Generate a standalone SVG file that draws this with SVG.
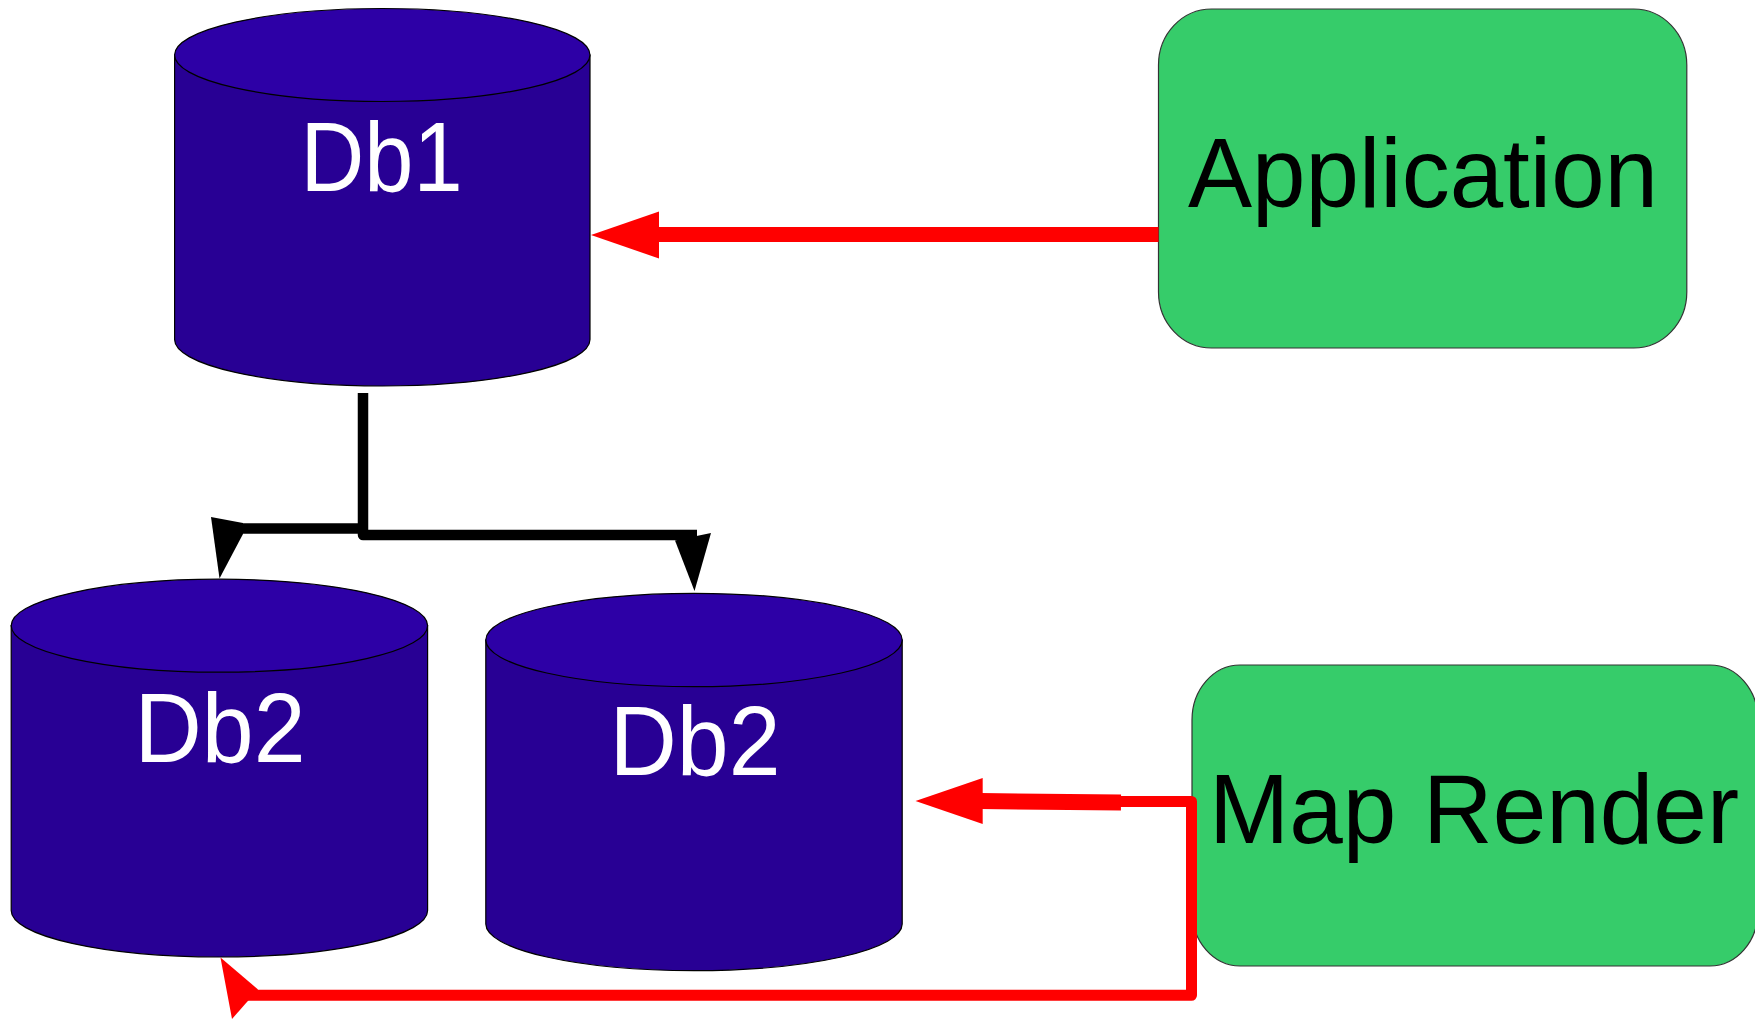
<svg xmlns="http://www.w3.org/2000/svg" width="1755" height="1020" viewBox="0 0 1755 1020">
<style>
.body{fill:#280094;stroke:#000;stroke-width:1.2}
.top{fill:#2d00a6;stroke:#000;stroke-width:1.2}
.box{fill:#36cc6a;stroke:#333;stroke-width:1.2}
.dbt{font-family:"Liberation Sans",Arial,sans-serif;font-size:98px;fill:#fff;text-anchor:middle}
.bt{font-family:"Liberation Sans",Arial,sans-serif;font-size:98px;fill:#000;text-anchor:middle}
.red{fill:none;stroke:#f00;stroke-linejoin:round}
.blk{fill:none;stroke:#000;stroke-linejoin:round}
</style>
<rect width="1755" height="1020" fill="#fff"/>
<g id="db1">
<path class="body" d="M174.6,55 V339.5 A207.7,46.5 0 0 0 590,339.5 V55 Z"/>
<ellipse class="top" cx="382.3" cy="55" rx="207.7" ry="46.5"/>
<text class="dbt" x="381.5" y="190.5" textLength="162" lengthAdjust="spacingAndGlyphs">Db1</text>
</g>
<g id="db2a">
<path class="body" d="M11.2,625.7 V910.5 A208.2,46.5 0 0 0 427.6,910.5 V625.7 Z"/>
<ellipse class="top" cx="219.4" cy="625.7" rx="208.2" ry="46.5"/>
<text class="dbt" x="220" y="762" textLength="171" lengthAdjust="spacingAndGlyphs">Db2</text>
</g>
<g id="db2b">
<path class="body" d="M485.8,640 V924 A208.2,46.7 0 0 0 902.2,924 V640 Z"/>
<ellipse class="top" cx="694" cy="640" rx="208.2" ry="46.7"/>
<text class="dbt" x="695" y="775" textLength="171" lengthAdjust="spacingAndGlyphs">Db2</text>
</g>
<g id="application">
<rect class="box" x="1158.5" y="9" width="528.3" height="339" rx="53" ry="56"/>
<text class="bt" x="1423" y="207" textLength="470" lengthAdjust="spacingAndGlyphs">Application</text>
</g>
<g id="maprender">
<rect class="box" x="1192" y="665" width="566" height="301" rx="48" ry="55"/>
<text class="bt" x="1474" y="843" textLength="530" lengthAdjust="spacingAndGlyphs">Map Render</text>
</g>
<g id="connectors">
<path class="red" d="M1158.5,234.5 H655" stroke-width="15"/>
<polygon fill="#f00" points="591,235 659,211.5 659,258.5"/>
<path class="red" d="M980,801 L1121,802.5" stroke-width="16"/>
<path class="red" d="M1119,801.5 H1191.5 V995.3 H248" stroke-width="11"/>
<polygon fill="#f00" points="915.5,801 982.7,778 982.7,824"/>
<polygon fill="#f00" points="220.5,957.5 258,989.5 232,1019"/>
<path class="blk" d="M363,393 V535 H697" stroke-width="10.5"/>
<path class="blk" d="M366,528.5 H240" stroke-width="10.5"/>
<polygon fill="#000" points="211,517 243,523 243,534 219.5,578.5"/>
<polygon fill="#000" points="675,540.5 711,533 694.5,591"/>
</g>
</svg>
